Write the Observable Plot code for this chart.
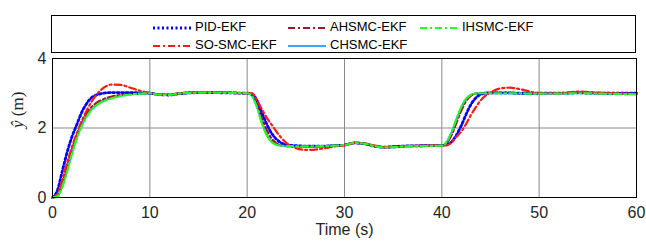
<!DOCTYPE html>
<html>
<head>
<meta charset="utf-8">
<script src="https://cdn.jsdelivr.net/npm/d3@7"></script>
<script src="https://cdn.jsdelivr.net/npm/@observablehq/plot@0.6"></script>
<style>
  html, body { margin: 0; padding: 0; background: #fff; }
  #wrap { position: relative; width: 646px; height: 242px; font-family: "Liberation Sans", Arial, sans-serif; }
  #legend { position: absolute; left: 51px; top: 15px; width: 583px; height: 36px; border: 1px solid #000; background: #fff; box-sizing: content-box; }
  .item { position: absolute; font-size: 13px; color: #000; line-height: 14px; white-space: nowrap; }
  .item svg { vertical-align: middle; margin-right: 3px; }
</style>
</head>
<body>
<div id="wrap"><div id="chart"></div><div id="legend"></div></div>
<script>
const seriesNames = ["CHSMC-EKF", "AHSMC-EKF", "PID-EKF", "SO-SMC-EKF", "IHSMC-EKF"];
const seriesColors = ["#3aa2ff", "#a2142f", "#0000ff", "#ff1a1a", "#22ff22"];
const seriesDash = ["none", "7,3,2,3", "2,2.5", "7,3,2,3", "7,3,2,3"];
const seriesWidth = [2.2, 2.2, 2.8, 2.2, 2.2];

const time = [0,0.5,1,1.5,2,2.5,3,3.5,4,4.5,5,5.5,6,7,8,9,10,11,12,13,14,16,18,20,20.5,21,21.5,22,22.5,23,23.5,24,24.5,25,26,27,28,29,30,31,32,33,34,35,36,38,40,40.5,41,41.5,42,42.5,43,43.5,44,44.5,45,46,47,48,49,50,52,54,56,58,60];

const pid = [0,0.2,0.75,1.3,1.75,2.1,2.45,2.7,2.87,2.95,2.99,3.01,3.02,3.02,3.02,3.01,3.0,2.96,2.95,2.99,3.01,3.02,3.01,3.0,2.98,2.8,2.45,2.12,1.85,1.68,1.57,1.52,1.5,1.49,1.48,1.48,1.48,1.49,1.51,1.57,1.55,1.48,1.45,1.46,1.48,1.49,1.5,1.53,1.6,1.8,2.07,2.4,2.68,2.87,2.97,3.0,3.01,3.01,3.01,3.0,3.0,3.0,3.0,3.01,3.0,3.0,3.0];
const soSmc = [0,0.1,0.5,1.0,1.45,1.85,2.2,2.5,2.75,2.95,3.1,3.2,3.25,3.24,3.16,3.07,3.01,2.96,2.96,3.0,3.02,3.03,3.02,3.0,3.0,2.8,2.55,2.3,2.1,1.9,1.72,1.58,1.48,1.42,1.37,1.38,1.42,1.47,1.5,1.57,1.56,1.5,1.45,1.45,1.47,1.49,1.5,1.5,1.58,1.75,1.9,2.12,2.38,2.6,2.8,2.93,3.02,3.14,3.16,3.12,3.05,3.0,3.0,3.05,3.02,3.0,2.98];
const ahsmc = [0,0.05,0.4,0.9,1.4,1.8,2.15,2.42,2.6,2.72,2.8,2.86,2.9,2.95,2.98,3.0,3.0,2.96,2.95,2.99,3.01,3.02,3.01,3.0,2.95,2.7,2.3,1.95,1.7,1.56,1.5,1.48,1.48,1.48,1.47,1.47,1.48,1.49,1.51,1.57,1.55,1.48,1.45,1.46,1.48,1.49,1.5,1.57,1.8,2.15,2.5,2.78,2.93,2.99,3.0,3.01,3.01,3.01,3.01,3.0,3.0,3.0,3.0,3.02,3.0,3.0,2.99];
const ihsmc = [0,0.03,0.3,0.75,1.25,1.7,2.05,2.32,2.52,2.65,2.74,2.8,2.85,2.92,2.96,2.99,3.0,2.96,2.95,2.99,3.01,3.02,3.01,3.0,2.92,2.6,2.15,1.8,1.6,1.52,1.49,1.48,1.48,1.47,1.47,1.47,1.48,1.49,1.51,1.57,1.55,1.48,1.44,1.45,1.47,1.48,1.49,1.6,1.88,2.25,2.6,2.85,2.96,2.99,3.0,3.0,3.0,3.0,3.0,3.0,2.99,2.99,2.99,3.0,2.99,2.98,2.97];
const chsmc = [0,0.04,0.32,0.78,1.28,1.72,2.07,2.34,2.53,2.66,2.75,2.81,2.86,2.93,2.97,2.99,3.0,2.96,2.95,2.99,3.01,3.02,3.01,3.0,2.93,2.62,2.17,1.81,1.61,1.53,1.49,1.48,1.48,1.47,1.47,1.47,1.48,1.49,1.51,1.57,1.55,1.48,1.44,1.45,1.47,1.48,1.49,1.59,1.87,2.24,2.59,2.84,2.95,2.99,3.0,3.0,3.0,3.0,3.0,3.0,3.0,3.0,3.0,3.01,3.0,2.99,2.98];

const seriesValues = [chsmc, ahsmc, pid, soSmc, ihsmc];

const legendOrder = [
  ["PID-EKF", 2], ["AHSMC-EKF", 1], ["IHSMC-EKF", 4],
  ["SO-SMC-EKF", 3], ["CHSMC-EKF", 0]
];

const xTicks = [0, 10, 20, 30, 40, 50, 60];
const yTicks = [0, 2, 4];
const xGrid = [10, 20, 30, 40, 50];
const yGrid = [2];

const marks = [
  Plot.gridX(xGrid, {stroke: "#8a8a8a", strokeOpacity: 1, strokeWidth: 1}),
  Plot.gridY(yGrid, {stroke: "#8a8a8a", strokeOpacity: 1, strokeWidth: 1}),
];
seriesNames.forEach((name, i) => {
  const rows = time.map((t, k) => ({t, v: seriesValues[i][k]}));
  marks.push(Plot.line(rows, {
    x: "t", y: "v", stroke: seriesColors[i], strokeWidth: seriesWidth[i],
    strokeDasharray: seriesDash[i], curve: "monotone-x"
  }));
});
marks.push(
  Plot.frame({stroke: "#000", strokeWidth: 1}),
  Plot.axisX(xTicks, {tickSize: 0, tickPadding: 9, fontSize: 16, fill: "#262626", label: null}),
  Plot.axisY(yTicks, {tickSize: 0, tickPadding: 6, fontSize: 16, fill: "#262626", label: null}),
  Plot.text(["Time (s)"], {frameAnchor: "bottom", dy: 37, fontSize: 16, fill: "#262626"}),
  Plot.text(["ŷ (m)"], {frameAnchor: "left", dx: -35, rotate: -90, fontSize: 17, fill: "#262626", fontFamily: "Liberation Serif, serif"})
);

const chart = Plot.plot({
  width: 646, height: 242,
  marginTop: 58, marginBottom: 45, marginLeft: 52, marginRight: 10,
  x: {domain: [0, 60]},
  y: {domain: [0, 4]},
  style: {fontFamily: "Liberation Sans, Arial, sans-serif", background: "#fff", overflow: "visible"},
  marks
});
document.getElementById("chart").appendChild(chart);

// style the y label: italic hat-y, upright (m)
d3.select(chart).selectAll("text").each(function() {
  const el = d3.select(this);
  if (el.text() === "ŷ (m)") {
    el.text(null);
    el.append("tspan").attr("font-style", "italic").text("ŷ");
    el.append("tspan").text(" (m)");
  }
});

// legend
const legend = document.getElementById("legend");
const positions = [[100, 4], [235, 4], [367, 4], [100, 22], [235, 22]];
legendOrder.forEach(([name, idx], j) => {
  const div = document.createElement("div");
  div.className = "item";
  div.style.left = positions[j][0] + "px";
  div.style.top = positions[j][1] + "px";
  const ns = "http://www.w3.org/2000/svg";
  const s = document.createElementNS(ns, "svg");
  s.setAttribute("width", 40); s.setAttribute("height", 10);
  const l = document.createElementNS(ns, "line");
  l.setAttribute("x1", 1); l.setAttribute("x2", 39); l.setAttribute("y1", 5); l.setAttribute("y2", 5);
  l.setAttribute("stroke", seriesColors[idx]);
  l.setAttribute("stroke-width", seriesWidth[idx]);
  if (seriesDash[idx] !== "none") l.setAttribute("stroke-dasharray", seriesDash[idx]);
  s.appendChild(l);
  div.appendChild(s);
  div.appendChild(document.createTextNode(name));
  legend.appendChild(div);
});
</script>
</body>
</html>
